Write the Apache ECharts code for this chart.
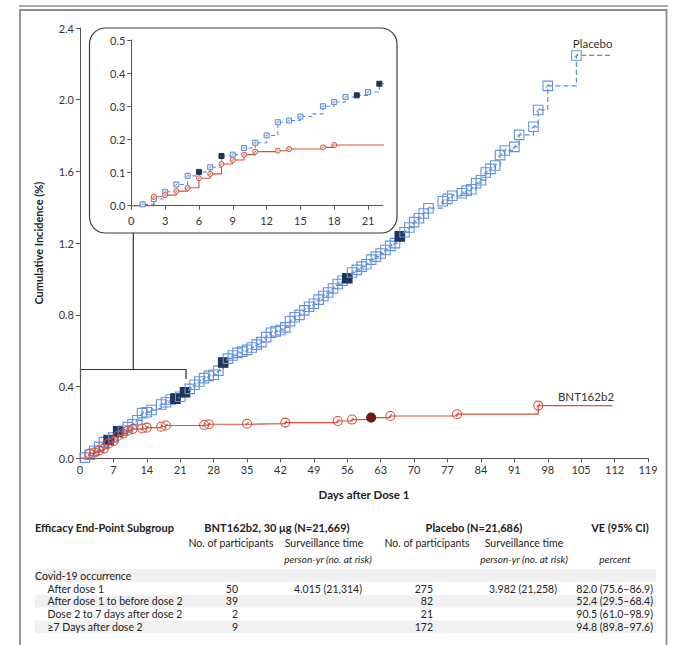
<!DOCTYPE html>
<html>
<head>
<meta charset="utf-8">
<script src="https://cdn.jsdelivr.net/npm/echarts@6/dist/echarts.min.js"></script>
<style>
  html, body { margin: 0; padding: 0; background: #fff; }
  #chart { width: 680px; height: 645px; }
</style>
</head>
<body>
<div id="chart"></div>
<script>
// cumulative incidence (%) by day after dose 1
var placeboDays = [0, 1, 2, 3, 4, 5, 6, 7, 8, 9, 10, 11, 12, 13, 14, 15, 16, 17, 18, 19, 20, 21, 22,
  23, 24, 25, 26, 27, 28, 29, 30, 31, 32, 33, 34, 35, 36, 37, 38, 39, 40, 41, 42, 43, 44, 45, 46, 47, 48, 49,
  50, 51, 52, 53, 54, 55, 56, 57, 58, 59, 60, 61, 62, 63, 64, 65, 66, 67, 68, 69, 70, 71, 72, 73,
  76, 77, 78, 80, 81, 82, 83, 84, 85, 86, 87, 88, 89, 91, 92, 95, 96, 98, 104, 111];
var placeboPct = [0, 0.004, 0.02, 0.042, 0.064, 0.09, 0.102, 0.116, 0.15, 0.154, 0.174, 0.19, 0.212, 0.252, 0.257, 0.269, 0.277, 0.30, 0.313, 0.328, 0.333, 0.343, 0.368,
  0.387, 0.41, 0.428, 0.447, 0.46, 0.466, 0.489, 0.534, 0.556, 0.573, 0.588, 0.595, 0.605, 0.618, 0.634, 0.648, 0.676, 0.7, 0.708, 0.716, 0.73, 0.765, 0.787, 0.8, 0.825, 0.845, 0.862,
  0.885, 0.905, 0.925, 0.947, 0.972, 0.99, 1.004, 1.036, 1.051, 1.069, 1.082, 1.108, 1.125, 1.142, 1.162, 1.185, 1.2, 1.238, 1.261, 1.287, 1.317, 1.339, 1.365, 1.395,
  1.434, 1.447, 1.464, 1.478, 1.493, 1.501, 1.534, 1.551, 1.594, 1.614, 1.633, 1.691, 1.717, 1.737, 1.804, 1.849, 1.943, 2.077, 2.247, 2.247];
var placeboFilledDays = [6, 8, 20, 22, 30, 56, 67];
var placeboNoMarkDays = [0, 16, 111];

var bntDays = [0, 2, 3, 4, 5, 6, 7, 8, 9, 10, 11, 13, 14, 17, 18, 26, 27, 35, 43, 54, 57, 61, 65, 79, 96, 111.5];
var bntPct = [0, 0.027, 0.032, 0.044, 0.054, 0.083, 0.096, 0.126, 0.138, 0.154, 0.163, 0.166, 0.171, 0.176, 0.183,
  0.186, 0.19, 0.193, 0.199, 0.208, 0.216, 0.227, 0.236, 0.246, 0.294, 0.294];
var bntFilledDays = [61];
var bntNoMarkDays = [0, 111.5];

var insetXTicks = [0, 3, 6, 9, 12, 15, 18, 21];
var insetYTicks = [0, 0.1, 0.2, 0.3, 0.4, 0.5];

// table below the plot
var tableRows = ['Covid-19 occurrence', 'After dose 1', 'After dose 1 to before dose 2', 'Dose 2 to 7 days after dose 2', '\u22657 Days after dose 2'];
var bntCases = ['', '50', '39', '2', '9'];
var bntTime = ['', '4.015 (21,314)', '', '', ''];
var placeboCases = ['', '275', '82', '21', '172'];
var placeboTime = ['', '3.982 (21,258)', '', '', ''];
var veText = ['', '82.0 (75.6\u201386.9)', '52.4 (29.5\u201368.4)', '90.5 (61.0\u201398.9)', '94.8 (89.8\u201397.6)'];

var BLUE = '#5b8bd6', BLUE_DARK = '#1f355e', RED = '#d6503a', RED_DARK = '#6e1c10';
var FONT = 'Lato, "Noto Sans", sans-serif';
var SQ = 'path://M0 0H10V10H0ZM3.2 6.8L6.8 3.2';
var CI = 'path://M10 5A5 5 0 1 1 0 5A5 5 0 1 1 10 5ZM3.2 6.8L6.8 3.2';

function buildData(days, pct, filled, noMark, fillColor) {
  return days.map(function (d, i) {
    var item = { value: [d, pct[i]] };
    if (noMark.indexOf(d) >= 0) item.symbol = 'none';
    if (filled.indexOf(d) >= 0) item.itemStyle = { color: fillColor, borderColor: fillColor };
    return item;
  });
}

var placeboData = buildData(placeboDays, placeboPct, placeboFilledDays, placeboNoMarkDays, BLUE_DARK);
var bntData = buildData(bntDays, bntPct, bntFilledDays, bntNoMarkDays, RED_DARK);

var dom = document.getElementById('chart');
var myChart = echarts.init(dom, null, { renderer: 'svg' });

var axisLine = { lineStyle: { color: '#555', width: 1 } };
var tableText = [];
function txt(s, x, y, align, font) {
  if (!s) return;
  tableText.push({
    type: 'text', silent: true,
    style: { text: s, x: x, y: y, align: align, verticalAlign: 'middle', fill: '#222', font: font || ('10.5px ' + FONT) }
  });
}
// shaded bands
[[569, 582], [595, 607.5], [620.5, 633]].forEach(function (b) {
  tableText.push({ type: 'rect', silent: true, z: -1, shape: { x: 35, y: b[0], width: 621, height: b[1] - b[0] }, style: { fill: '#f1f1f1' } });
});
txt('Efficacy End-Point Subgroup', 35, 527, 'left', 'bold 11px ' + FONT);
txt('BNT162b2, 30 \u03bcg (N=21,669)', 277, 527, 'center', 'bold 11px ' + FONT);
txt('Placebo (N=21,686)', 474, 527, 'center', 'bold 11px ' + FONT);
txt('VE (95% CI)', 620, 527, 'center', 'bold 11px ' + FONT);
txt('No. of participants', 231, 543, 'center');
txt('Surveillance time', 324, 543, 'center');
txt('No. of participants', 427, 543, 'center');
txt('Surveillance time', 524, 543, 'center');
txt('person-yr (no. at risk)', 328, 559, 'center', 'italic 10px ' + FONT);
txt('person-yr (no. at risk)', 524, 559, 'center', 'italic 10px ' + FONT);
txt('percent', 615, 559, 'center', 'italic 10px ' + FONT);
var rowY = [576, 588.5, 601.3, 614.1, 626.9];
tableRows.forEach(function (r, i) {
  txt(r, i === 0 ? 35 : 47.5, rowY[i], 'left');
  txt(bntCases[i], 238, rowY[i], 'right');
  txt(bntTime[i], 362, rowY[i], 'right');
  txt(placeboCases[i], 433, rowY[i], 'right');
  txt(placeboTime[i], 557, rowY[i], 'right');
  txt(veText[i], 653, rowY[i], 'right');
});

option = {
  animation: false,
  backgroundColor: '#fff',
  grid: [
    { left: 80, top: 28, width: 568, height: 430.3 },
    { left: 131.3, top: 40, width: 251.4, height: 169 }
  ],
  xAxis: [
    {
      gridIndex: 0, type: 'value', min: 0, max: 119, interval: 7,
      name: 'Days after Dose 1', nameLocation: 'middle', nameGap: 30,
      nameTextStyle: { fontFamily: FONT, fontWeight: 'bold', fontSize: 11.5, color: '#222' },
      axisLine: axisLine, splitLine: { show: false },
      axisTick: { length: 4, lineStyle: { color: '#555' } },
      axisLabel: { fontFamily: FONT, fontSize: 11, color: '#333', margin: 6 }
    },
    {
      gridIndex: 1, type: 'value', min: 0, max: 22.3,
      axisLine: axisLine, splitLine: { show: false },
      axisTick: { length: 4, lineStyle: { color: '#555' }, customValues: insetXTicks },
      axisLabel: { fontFamily: FONT, fontSize: 11, color: '#333', margin: 6, customValues: insetXTicks }
    }
  ],
  yAxis: [
    {
      gridIndex: 0, type: 'value', min: 0, max: 2.4, interval: 0.4,
      name: 'Cumulative Incidence (%)', nameLocation: 'middle', nameGap: 36, nameRotate: 90,
      nameTextStyle: { fontFamily: FONT, fontWeight: 'bold', fontSize: 11, color: '#222' },
      axisLine: { show: true, lineStyle: { color: '#555', width: 1 } }, splitLine: { show: false },
      axisTick: { show: true, length: 4, lineStyle: { color: '#555' } },
      axisLabel: { fontFamily: FONT, fontSize: 11, color: '#333', margin: 6, formatter: function (v) { return v.toFixed(1); } }
    },
    {
      gridIndex: 1, type: 'value', min: -0.01, max: 0.5,
      axisLine: { show: true, lineStyle: { color: '#555', width: 1 } }, splitLine: { show: false },
      axisTick: { show: true, length: 4, lineStyle: { color: '#555' }, customValues: insetYTicks },
      axisLabel: { fontFamily: FONT, fontSize: 11, color: '#333', margin: 6, customValues: insetYTicks,
        formatter: function (v) { return v.toFixed(1); } }
    }
  ],
  series: [
    {
      name: 'Placebo', type: 'line', step: 'end', xAxisIndex: 0, yAxisIndex: 0,
      data: placeboData, symbol: SQ, symbolSize: 9.5,
      lineStyle: { color: BLUE, width: 1.2, type: [5, 3] },
      itemStyle: { color: 'rgba(255,255,255,0)', borderColor: '#6393dc', borderWidth: 1.1 }
    },
    {
      name: 'BNT162b2', type: 'line', step: 'end', xAxisIndex: 0, yAxisIndex: 0,
      data: bntData, symbol: CI, symbolSize: 9,
      lineStyle: { color: RED, width: 1.2 },
      itemStyle: { color: 'rgba(255,255,255,0)', borderColor: RED, borderWidth: 1.1 }
    },
    {
      name: 'Placebo inset', type: 'line', step: 'end', xAxisIndex: 1, yAxisIndex: 1,
      data: placeboData, symbol: SQ, symbolSize: 5,
      lineStyle: { color: BLUE, width: 1.1, type: [4, 3] },
      itemStyle: { color: '#e4ecf8', borderColor: BLUE, borderWidth: 1 }
    },
    {
      name: 'BNT162b2 inset', type: 'line', step: 'end', xAxisIndex: 1, yAxisIndex: 1,
      data: bntData, symbol: CI, symbolSize: 5,
      lineStyle: { color: RED, width: 1.1 },
      itemStyle: { color: '#fbe9e5', borderColor: RED, borderWidth: 1 }
    }
  ],
  graphic: [
    // outer frame
    { type: 'line', silent: true, shape: { x1: 19, y1: 6, x2: 668, y2: 6 }, style: { stroke: '#8c8c8c', lineWidth: 1.6 } },
    { type: 'rect', silent: true, shape: { x: 20, y: 10, width: 646.5, height: 660 }, style: { fill: 'none', stroke: '#8c8c8c', lineWidth: 1.8 } },
    // inset frame
    { type: 'rect', silent: true, shape: { x: 89.5, y: 28, width: 307.5, height: 205, r: 16 }, style: { fill: 'none', stroke: '#3a3a3a', lineWidth: 1.2 } },
    // bracket linking inset to day 0-22
    { type: 'polyline', silent: true, shape: { points: [[80.5, 379], [80.5, 369.5], [186, 369.5], [186, 379]] }, style: { fill: 'none', stroke: '#333', lineWidth: 1.2 } },
    { type: 'line', silent: true, shape: { x1: 133.3, y1: 369.5, x2: 133.3, y2: 233 }, style: { stroke: '#333', lineWidth: 1.2 } },
    // curve labels
    { type: 'text', silent: true, style: { text: 'Placebo', x: 592.7, y: 43.5, align: 'center', verticalAlign: 'middle', fill: '#333', font: '11.5px ' + FONT } },
    { type: 'text', silent: true, style: { text: 'BNT162b2', x: 586, y: 396, align: 'center', verticalAlign: 'middle', fill: '#333', font: '11.5px ' + FONT } }
  ].concat(tableText)
};

myChart.setOption(option);
</script>
</body>
</html>
